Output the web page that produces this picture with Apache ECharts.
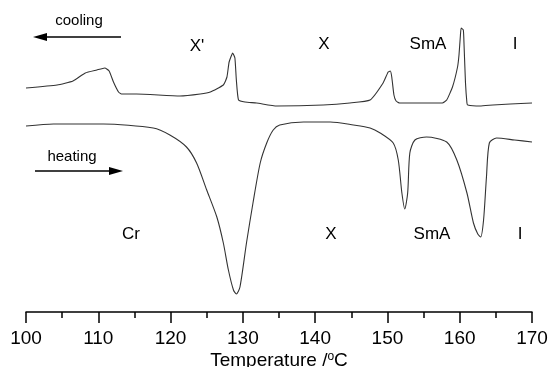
<!DOCTYPE html>
<html>
<head>
<meta charset="utf-8">
<script src="https://cdn.jsdelivr.net/npm/echarts@6/dist/echarts.min.js"></script>
<style>
  html, body { margin: 0; padding: 0; background: #fff; }
  #chart { width: 552px; height: 367px; }
</style>
</head>
<body>
<div id="chart"></div>
<script>
// DSC traces, heat flow in arbitrary units
var coolingT = [100.0, 104.3, 106.5, 108.2, 109.8, 110.9, 111.5, 112.1, 112.8, 113.2, 115.3, 121.3, 124.1, 125.5, 127.3, 127.8, 128.1, 128.6, 128.9, 129.1, 129.4, 130.3, 131.9, 134.7, 141.1, 144.8, 147.6, 149.4, 150.1, 150.4, 150.6, 150.9, 151.2, 151.7, 157.6, 158.2, 159.0, 159.7, 159.9, 160.1, 160.2, 160.5, 160.6, 160.8, 161.0, 161.1, 162.8, 164.6, 167.0, 170.0];
var coolingQ = [22.4, 22.7, 23.1, 23.9, 24.2, 24.4, 24.1, 23.0, 22.0, 21.8, 21.8, 21.6, 21.8, 22.0, 22.7, 23.5, 25.0, 25.9, 25.4, 23.2, 21.2, 21.0, 20.9, 20.6, 20.7, 20.9, 21.2, 22.9, 24.0, 24.1, 23.5, 21.7, 21.1, 20.9, 20.9, 21.2, 22.5, 24.5, 25.7, 27.7, 28.4, 28.2, 26.7, 22.9, 20.9, 20.7, 20.6, 20.7, 20.8, 20.9];

var heatingT = [100.0, 103.8, 110.7, 117.6, 119.9, 122.2, 123.6, 125.0, 126.4, 127.3, 128.0, 128.7, 129.1, 129.6, 130.5, 131.4, 132.4, 133.3, 134.2, 135.1, 138.4, 142.1, 145.3, 147.6, 149.0, 150.8, 151.5, 152.0, 152.4, 152.8, 153.1, 153.8, 155.4, 158.2, 159.6, 161.0, 161.9, 162.5, 162.9, 163.3, 163.7, 164.1, 165.1, 167.6, 170.0];
var heatingQ = [18.6, 18.8, 18.8, 18.4, 17.7, 16.5, 14.9, 12.2, 9.5, 6.9, 4.2, 2.2, 1.8, 2.5, 6.9, 10.9, 14.9, 16.9, 18.2, 18.7, 19.0, 19.0, 18.7, 18.4, 17.9, 16.9, 15.2, 11.9, 10.3, 11.9, 15.9, 17.2, 17.5, 17.0, 15.2, 11.9, 8.9, 7.8, 7.5, 9.2, 13.5, 16.9, 17.4, 17.2, 17.0];

var xTicks = [100, 110, 120, 130, 140, 150, 160, 170];

function pairs(xs, ys) {
  return xs.map(function(x, i) { return [x, ys[i]]; });
}

var ink = '#000';
var lineColor = '#333';
var font = 'Liberation Sans, Arial, sans-serif';

function label(text, x, y, size) {
  return {
    type: 'text', x: x, y: y,
    style: { text: text, fill: ink, font: (size || 17) + 'px ' + font, align: 'center', verticalAlign: 'middle' }
  };
}

var chart = echarts.init(document.getElementById('chart'), null, { renderer: 'canvas' });
chart.setOption({
  animation: false,
  backgroundColor: '#fff',
  grid: { left: 26, right: 20, top: 0, bottom: 55, containLabel: false, outerBoundsMode: 'none' },
  xAxis: {
    type: 'value',
    min: xTicks[0],
    max: xTicks[xTicks.length - 1],
    interval: 10,
    name: '{n|Temperature /}{s|o}{n|C}',
    nameLocation: 'middle',
    nameGap: 39,
    nameMoveOverlap: false,
    nameTextStyle: {
      rich: {
        n: { fontSize: 19, fontFamily: font, color: ink },
        s: { fontSize: 12, fontFamily: font, color: ink, verticalAlign: 'top', padding: [0, 0, 7, 0] }
      }
    },
    axisLine: { show: true, onZero: false, lineStyle: { color: ink, width: 1.5 } },
    axisTick: { show: true, inside: false, length: 11, lineStyle: { color: ink, width: 1.5 } },
    minorTick: { show: true, splitNumber: 2, length: 6, lineStyle: { color: ink, width: 1.5 } },
    axisLabel: { color: ink, fontSize: 19, fontFamily: font, margin: 17 },
    splitLine: { show: false },
    minorSplitLine: { show: false }
  },
  yAxis: {
    type: 'value', min: 0, max: 31.2, show: false,
    splitLine: { show: false }
  },
  series: [
    {
      name: 'cooling', type: 'line', data: pairs(coolingT, coolingQ),
      showSymbol: false, smooth: 0.15,
      lineStyle: { color: lineColor, width: 1.1 }
    },
    {
      name: 'heating', type: 'line', data: pairs(heatingT, heatingQ),
      showSymbol: false, smooth: 0.25,
      lineStyle: { color: lineColor, width: 1.1 }
    }
  ],
  graphic: [
    label('cooling', 79, 21, 15),
    { type: 'line', shape: { x1: 44, y1: 37, x2: 121, y2: 37 }, style: { stroke: ink, lineWidth: 1.5 } },
    { type: 'polygon', shape: { points: [[33, 37], [47, 33], [47, 41]] }, style: { fill: ink } },
    label('heating', 72, 157, 15),
    { type: 'line', shape: { x1: 35, y1: 171, x2: 112, y2: 171 }, style: { stroke: ink, lineWidth: 1.5 } },
    { type: 'polygon', shape: { points: [[123, 171], [109, 167], [109, 175]] }, style: { fill: ink } },
    label("X'", 197, 46),
    label('X', 324, 44),
    label('SmA', 428, 44),
    label('I', 515, 44),
    label('Cr', 131, 234),
    label('X', 331, 234),
    label('SmA', 432, 234),
    label('I', 520, 234)
  ]
});
</script>
</body>
</html>
